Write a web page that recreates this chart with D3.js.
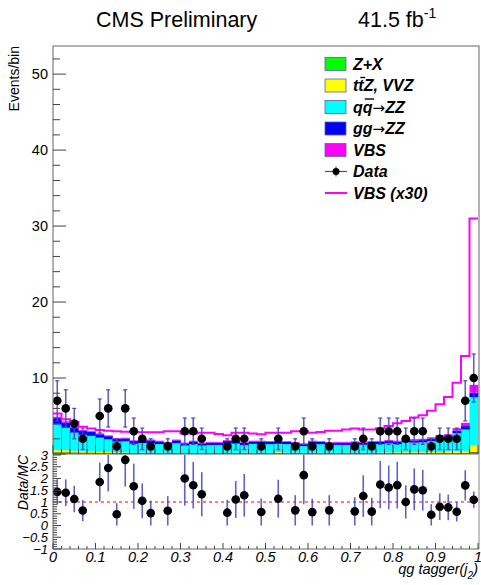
<!DOCTYPE html>
<html><head><meta charset="utf-8">
<script src="https://cdn.jsdelivr.net/npm/d3@7"></script>
<style>body{margin:0;background:#fff}svg{display:block}text{font-family:"Liberation Sans",Arial,Helvetica,sans-serif}</style>
</head><body><svg id="c" width="481" height="585"></svg>
<script>
// ---- data (50 bins of qg tagger(j2), width 0.02) ----
const binEdges = d3.range(0, 51).map(i => +(i * 0.02).toFixed(2));
const dataCounts = [7,6,4,2,0,5,6,1,6,3,2,1,0,1,0,3,3,2,0,0,1,2,2,0,1,0,2,0,1,3,1,0,1,0,0,1,2,1,3,3,3,2,3,3,1,2,2,2,7,10];
const zx  = [0.15,0.15,0.12,0.1,0.1,0.08,0.08,0.06,0.06,0.05,0.05,0.05,0.05,0.04,0.04,0.04,0.04,0.04,0.04,0.04,0.04,0.04,0.04,0.04,0.04,0.04,0.04,0.04,0.04,0.04,0.04,0.04,0.04,0.04,0.04,0.04,0.04,0.04,0.04,0.04,0.05,0.05,0.05,0.05,0.05,0.05,0.05,0.05,0.06,0.2];
const ttz = [0.35,0.35,0.3,0.3,0.25,0.2,0.2,0.15,0.15,0.1,0.1,0.1,0.1,0.1,0.1,0.1,0.1,0.1,0.1,0.1,0.1,0.12,0.12,0.12,0.12,0.12,0.2,0.12,0.12,0.12,0.12,0.12,0.12,0.12,0.12,0.12,0.12,0.12,0.15,0.15,0.18,0.18,0.18,0.18,0.2,0.2,0.3,0.3,0.35,0.9];
const qqzz = [3.37,2.95,2.39,2.13,2.04,1.87,1.65,1.41,1.46,1.2,1.28,1.3,1.16,1.06,1.28,0.97,1.17,0.97,1.05,1.05,1.25,1.2,1.0,1.17,1.17,1.13,1.09,1.13,0.99,0.87,1.18,1.12,0.99,1.04,1.03,1.09,1.05,1.13,1.12,1.22,1.08,1.3,1.26,1.3,1.46,1.71,1.7,2.39,2.81,6.37];
const ggzz = [0.85,0.7,0.6,0.5,0.5,0.45,0.42,0.38,0.38,0.35,0.38,0.35,0.35,0.3,0.38,0.3,0.35,0.3,0.32,0.32,0.36,0.35,0.3,0.33,0.33,0.32,0.33,0.32,0.3,0.27,0.32,0.32,0.3,0.3,0.3,0.3,0.28,0.3,0.3,0.32,0.3,0.32,0.3,0.3,0.3,0.32,0.3,0.35,0.45,0.6];
const vbs = [0.178,0.153,0.14,0.12,0.112,0.105,0.102,0.1,0.098,0.097,0.095,0.095,0.095,0.1,0.1,0.09,0.09,0.093,0.093,0.088,0.082,0.093,0.093,0.09,0.087,0.093,0.093,0.093,0.1,0.1,0.093,0.097,0.102,0.102,0.107,0.112,0.107,0.108,0.113,0.123,0.135,0.145,0.16,0.17,0.19,0.218,0.25,0.313,0.43,1.033];
const vbsScale = 30;
const mainYTicks = [10,20,30,40,50];
const ratioYTicks = [-1,-0.5,0,0.5,1,1.5,2,2.5,3];
const xTicks = [0,0.1,0.2,0.3,0.4,0.5,0.6,0.7,0.8,0.9,1];

// ---- layout ----
const svg = d3.select("#c");
const L = 53, R = 478, T = 46, MB = 454, RT = 455, RB = 549;
const x = d3.scaleLinear().domain([0,1]).range([L,R]);
const y = d3.scaleLinear().domain([0,53.7]).range([MB,T]);
const yr = d3.scaleLinear().domain([-1,3]).range([RB,RT]);

const rows = binEdges.slice(0,50).map((lo,i)=>({i, lo, hi:binEdges[i+1], zx:zx[i], ttz:ttz[i], qqzz:qqzz[i], ggzz:ggzz[i], vbs:vbs[i], n:dataCounts[i]}));
const keys = ["zx","ttz","qqzz","ggzz","vbs"];
const fills = {zx:"#00ff00", ttz:"#ffff00", qqzz:"#00ffff", ggzz:"#0000ff", vbs:"#ff00ff"};
const series = d3.stack().keys(keys)(rows);

svg.append("defs").append("clipPath").attr("id","cm").append("rect").attr("x",L).attr("y",T).attr("width",R-L+1).attr("height",MB-T);
svg.select("defs").append("clipPath").attr("id","cr").append("rect").attr("x",L).attr("y",RT).attr("width",R-L+1).attr("height",RB-RT);

const gm = svg.append("g").attr("clip-path","url(#cm)");
series.forEach(s=>{
  gm.append("g").selectAll("rect").data(s).join("rect")
    .attr("x",d=>x(d.data.lo)).attr("width",d=>x(d.data.hi)-x(d.data.lo)+0.3)
    .attr("y",d=>y(d[1])).attr("height",d=>Math.max(0,y(d[0])-y(d[1])))
    .attr("fill",fills[s.key]);
});
const zxS = series[0], qqS = series[2];
gm.append("g").selectAll("line").data(zxS).join("line")
  .attr("x1",d=>x(d.data.lo)).attr("x2",d=>x(d.data.hi)).attr("y1",d=>y(d[1])).attr("y2",d=>y(d[1]))
  .attr("stroke","#6b6b1a").attr("stroke-width",1);
gm.append("g").selectAll("line").data(qqS.slice(1)).join("line")
  .attr("x1",d=>x(d.data.lo)).attr("x2",d=>x(d.data.lo))
  .attr("y1",y(0)).attr("y2",(d,j)=>y(Math.min(d[1], qqS[j][1])))
  .attr("stroke","#203070").attr("stroke-width",0.7).attr("opacity",0.6);

// VBS x30 line
const stepPts = [];
rows.forEach(r=>{ stepPts.push([r.lo, r.vbs*vbsScale]); stepPts.push([r.hi, r.vbs*vbsScale]); });
gm.append("path").attr("d", d3.line().x(d=>x(d[0])).y(d=>y(d[1]))(stepPts))
  .attr("fill","none").attr("stroke","#ff00ff").attr("stroke-width",2);

// data points main
const errCol = "#4646c0";
const dat = rows.filter(r=>r.n>0);
dat.forEach(r=>{
  const cx = x((r.lo+r.hi)/2), e = Math.sqrt(r.n);
  const g = gm.append("g");
  g.append("line").attr("x1",cx).attr("x2",cx).attr("y1",y(r.n+e)).attr("y2",y(Math.max(0,r.n-e))).attr("stroke",errCol).attr("stroke-width",1.6).attr("opacity",0.85);
  [r.n+e, Math.max(0,r.n-e)].forEach(v=>g.append("line").attr("x1",cx-2).attr("x2",cx+2).attr("y1",y(v)).attr("y2",y(v)).attr("stroke",errCol).attr("stroke-width",1.2));
  g.append("line").attr("x1",x(r.lo)).attr("x2",x(r.hi)).attr("y1",y(r.n)).attr("y2",y(r.n)).attr("stroke",errCol).attr("stroke-width",1.2);
  g.append("circle").attr("cx",cx).attr("cy",y(r.n)).attr("r",4.3).attr("fill","#000");
});

// main frame
svg.append("rect").attr("x",L).attr("y",T).attr("width",R-L+1).attr("height",MB-T).attr("fill","none").attr("stroke","#666").attr("stroke-width",1);
const gy = svg.append("g").attr("stroke","#444").attr("stroke-width",1);
d3.range(0,54,2).forEach(v=>{ const maj = v%10===0; gy.append("line").attr("x1",L).attr("x2",L+(maj?13:7)).attr("y1",y(v)).attr("y2",y(v)); });
mainYTicks.forEach(v=>svg.append("text").attr("x",48).attr("y",y(v)+5).attr("text-anchor","end").attr("font-size",14.5).text(v));
d3.range(0,51).forEach(i=>{ const maj=i%5===0; gy.append("line").attr("x1",x(i*0.02)).attr("x2",x(i*0.02)).attr("y1",MB).attr("y2",MB-(maj?9:5)); });
svg.append("text").attr("transform","translate(19,46) rotate(-90)").attr("text-anchor","end").attr("font-size",14).text("Events/bin");

// title
svg.append("text").attr("x",96).attr("y",27).attr("font-size",21.5).text("CMS Preliminary");
const lum = svg.append("text").attr("x",358).attr("y",27).attr("font-size",21.5);
lum.append("tspan").text("41.5 fb");
lum.append("tspan").attr("dy",-9).attr("font-size",14).text("-1");

// legend
const lx = 325, lt = 353, legRows = [64,85.5,107,128.5,150,171.5,193];
const legItems = [["zx",["Z+X"]],["ttz",["ttZ, VVZ"]],["qqzz",["qq","\u2192","ZZ"]],["ggzz",["gg","\u2192","ZZ"]],["vbs",["VBS"]]];
legItems.forEach(([k,parts],j)=>{
  const cy = legRows[j];
  svg.append("rect").attr("x",lx).attr("y",cy-6.5).attr("width",21).attr("height",13).attr("fill",fills[k]).attr("stroke","#6060a0").attr("stroke-width",0.8);
  const tx = svg.append("text").attr("x",lt).attr("y",cy+5.5).attr("font-size",16).attr("font-weight","bold").attr("font-style","italic");
  parts.forEach(p=>{
    const ts = tx.append("tspan").text(p);
    if(p==="\u2192") ts.attr("font-family","DejaVu Sans").attr("font-weight","normal").attr("font-style","normal").attr("font-size",15);
  });
  if(k==="ttz"||k==="qqzz"){
    const node = tx.node();
    const x0 = node.getStartPositionOfChar(1).x, x1 = node.getEndPositionOfChar(1).x;
    svg.append("line").attr("x1",x0+2).attr("x2",x1+1.5).attr("y1",cy-8).attr("y2",cy-8).attr("stroke","#000").attr("stroke-width",1.4);
  }
});
{ const cy = legRows[5];
  svg.append("line").attr("x1",lx).attr("x2",lx+22).attr("y1",cy).attr("y2",cy).attr("stroke",errCol).attr("stroke-width",1.2);
  svg.append("line").attr("x1",lx+11).attr("x2",lx+11).attr("y1",cy-5).attr("y2",cy+5).attr("stroke",errCol).attr("stroke-width",1.2);
  svg.append("circle").attr("cx",lx+11).attr("cy",cy).attr("r",3.5).attr("fill","#000");
  svg.append("text").attr("x",lt).attr("y",cy+5.5).attr("font-size",16).attr("font-weight","bold").attr("font-style","italic").text("Data");
  const cy2 = legRows[6];
  svg.append("line").attr("x1",lx).attr("x2",lx+22).attr("y1",cy2).attr("y2",cy2).attr("stroke","#ff00ff").attr("stroke-width",2);
  svg.append("text").attr("x",lt).attr("y",cy2+5.5).attr("font-size",16).attr("font-weight","bold").attr("font-style","italic").text("VBS (x30)");
}

// ratio panel
const gr = svg.append("g").attr("clip-path","url(#cr)");
gr.append("line").attr("x1",L).attr("x2",R).attr("y1",yr(1)).attr("y2",yr(1)).attr("stroke","#ff0000").attr("stroke-width",1).attr("stroke-dasharray","3,3");
dat.forEach(r=>{
  const tot = keys.reduce((s,k)=>s+r[k],0);
  const rv = r.n/tot, re = Math.sqrt(r.n)/tot, cx = x((r.lo+r.hi)/2);
  gr.append("line").attr("x1",cx).attr("x2",cx).attr("y1",yr(rv+re)).attr("y2",yr(rv-re)).attr("stroke",errCol).attr("stroke-width",1.6).attr("opacity",0.85);
  gr.append("line").attr("x1",x(r.lo)).attr("x2",x(r.hi)).attr("y1",yr(rv)).attr("y2",yr(rv)).attr("stroke",errCol).attr("stroke-width",1.2);
  gr.append("circle").attr("cx",cx).attr("cy",yr(rv)).attr("r",4.3).attr("fill","#000");
});
svg.append("line").attr("x1",L).attr("x2",L).attr("y1",RT).attr("y2",RB).attr("stroke","#666");
svg.append("line").attr("x1",R+1).attr("x2",R+1).attr("y1",RT).attr("y2",RB).attr("stroke","#888");
svg.append("line").attr("x1",L).attr("x2",R+1).attr("y1",RB).attr("y2",RB).attr("stroke","#666");
const gt = svg.append("g").attr("stroke","#444").attr("stroke-width",1);
d3.range(-10,31).forEach(i=>{ const v=i/10, maj=i%5===0; gt.append("line").attr("x1",L).attr("x2",L+(maj?8:4)).attr("y1",yr(v)).attr("y2",yr(v)); });
d3.range(0,51).forEach(i=>{ const maj=i%5===0; gt.append("line").attr("x1",x(i*0.02)).attr("x2",x(i*0.02)).attr("y1",RB).attr("y2",RB-(maj?6:3)); });
ratioYTicks.forEach(v=>svg.append("text").attr("x",48).attr("y",yr(v)+4.5).attr("text-anchor","end").attr("font-size",13).attr("font-style","italic").text(v<0?"\u2212"+Math.abs(v):v));
xTicks.forEach(v=>svg.append("text").attr("x",x(v)).attr("y",562).attr("text-anchor","middle").attr("font-size",14.5).attr("font-style","italic").text(v));
svg.append("text").attr("transform","translate(28,455) rotate(-90)").attr("text-anchor","end").attr("font-size",14).attr("font-style","italic").text("Data/MC");
const xt = svg.append("text").attr("x",478).attr("y",574).attr("text-anchor","end").attr("font-size",14.5).attr("font-style","italic");
xt.append("tspan").text("qg tagger(j");
xt.append("tspan").attr("dy",5).attr("font-size",10).text("2");
xt.append("tspan").attr("dy",-5).text(")");
</script></body></html>
